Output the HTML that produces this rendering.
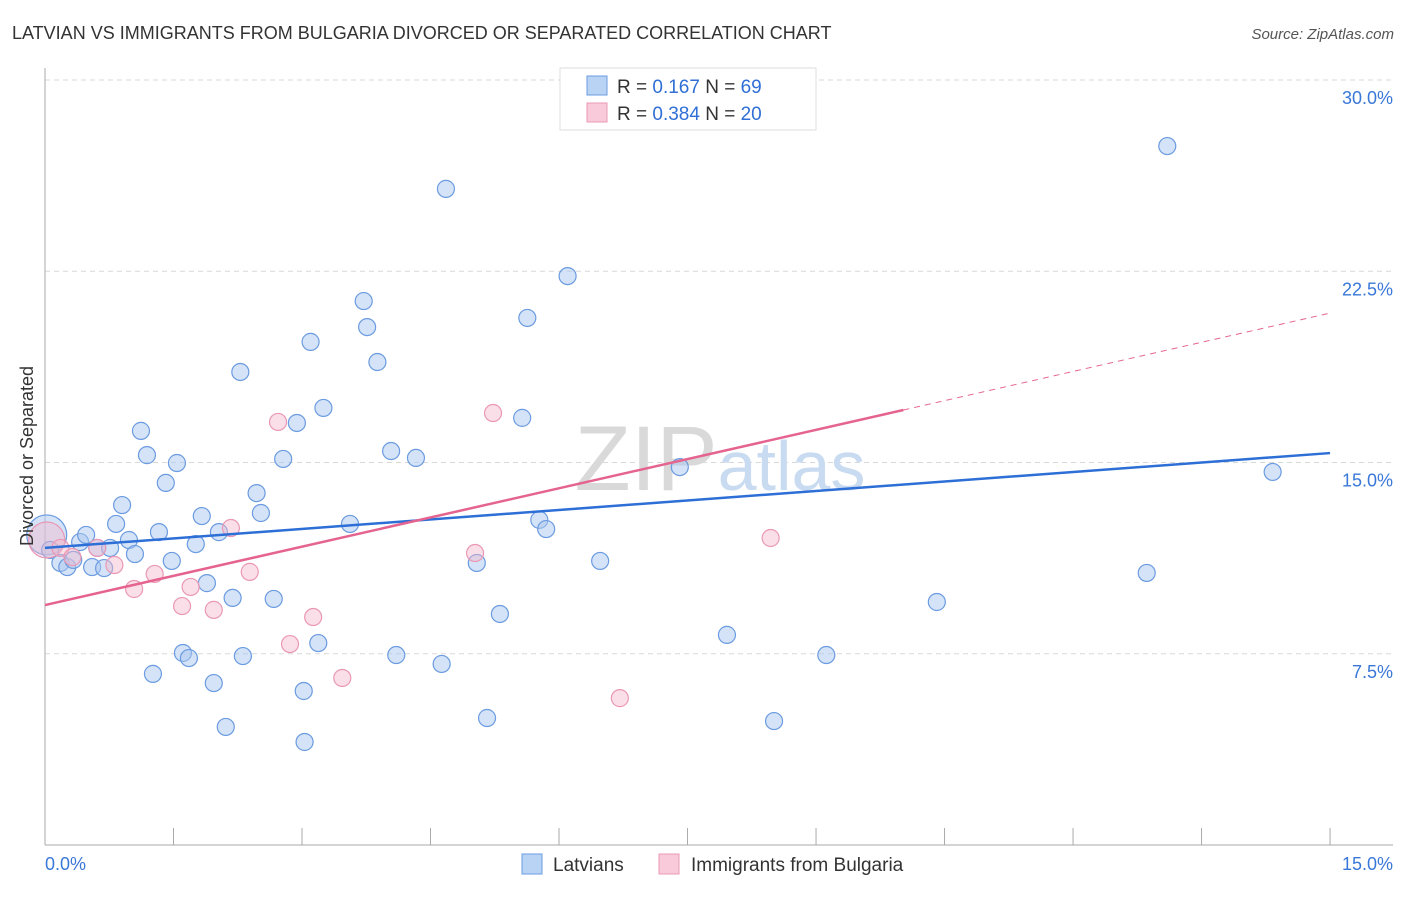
<!DOCTYPE html>
<html><head><meta charset="utf-8"><style>
body{margin:0;background:#fff;font-family:"Liberation Sans",sans-serif}
svg text{font-family:"Liberation Sans",sans-serif}
</style></head><body>
<svg width="1406" height="892" xmlns="http://www.w3.org/2000/svg">
<text x="12" y="39" font-size="18" fill="#333">LATVIAN VS IMMIGRANTS FROM BULGARIA DIVORCED OR SEPARATED CORRELATION CHART</text>
<text x="1394" y="39" font-size="15" fill="#555" font-style="italic" text-anchor="end">Source: ZipAtlas.com</text>
<g id="grid"></g>
<text x="720" y="490" font-size="92" fill="#dde3ea" text-anchor="middle" font-family="Liberation Serif"><tspan fill="#d9d9d9">ZIP</tspan><tspan fill="#c9dbf0" font-family="Liberation Sans" font-size="70">atlas</tspan></text>
<g id="axes"></g>
<g id="pts"></g>
<g id="lines"></g>
<text x="33" y="456" font-size="18" fill="#333" text-anchor="middle" transform="rotate(-90 33 456)">Divorced or Separated</text>
<g>
<rect x="560" y="68" width="256" height="62" fill="#fff" stroke="#ddd"/>
<rect x="587" y="76" width="20" height="19" fill="#b9d3f5" stroke="#6b9be0"/>
<rect x="587" y="103" width="20" height="19" fill="#f9cad9" stroke="#ea98b4"/>
<text x="617" y="93" font-size="19" fill="#333">R = <tspan fill="#2f6fd6"> 0.167</tspan>   N = <tspan fill="#2f6fd6">69</tspan></text>
<text x="617" y="120" font-size="19" fill="#333">R = <tspan fill="#2f6fd6">0.384</tspan>   N = <tspan fill="#2f6fd6">20</tspan></text>
</g>
<g>
<rect x="522" y="854" width="20" height="20" fill="#b9d3f5" stroke="#6b9be0"/>
<text x="553" y="871" font-size="19" fill="#333">Latvians</text>
<rect x="659" y="854" width="20" height="20" fill="#f9cad9" stroke="#ea98b4"/>
<text x="691" y="871" font-size="19" fill="#333">Immigrants from Bulgaria</text>
</g>
</svg>
<script>
const blueX=[0.02,0.06,0.18,0.26,0.33,0.41,0.48,0.55,0.61,0.69,0.76,0.83,0.90,0.98,1.05,1.12,1.19,1.26,1.33,1.41,1.48,1.54,1.61,1.68,1.76,1.83,1.89,1.97,2.03,2.11,2.19,2.28,2.31,2.47,2.52,2.67,2.78,2.94,3.02,3.03,3.10,3.19,3.25,3.56,3.72,3.76,3.88,4.04,4.10,4.33,4.63,4.68,5.04,5.16,5.31,5.57,5.63,5.77,5.85,6.10,6.48,7.41,7.96,8.51,9.12,10.41,12.86,13.10,14.33];
const blueY=[12.16,11.57,11.06,10.90,11.18,11.88,12.16,10.90,11.65,10.86,11.65,12.59,13.33,11.96,11.41,16.24,15.29,6.71,12.27,14.20,11.14,14.98,7.53,7.33,11.80,12.90,10.27,6.35,12.27,4.63,9.69,18.55,7.41,13.80,13.02,9.65,15.14,16.55,6.04,4.04,19.73,7.92,17.14,12.59,21.33,20.31,18.94,15.45,7.45,15.18,7.10,25.73,11.06,4.98,9.06,16.75,20.67,12.75,12.39,22.31,11.14,14.82,8.24,4.86,7.45,9.53,10.67,27.41,14.63];
const pinkX=[0.02,0.18,0.32,0.61,0.81,1.04,1.28,1.60,1.70,1.97,2.17,2.39,2.72,2.86,3.13,3.47,5.02,5.23,6.71,7.96,8.47];
const pinkY=[11.96,11.65,11.29,11.65,10.98,10.04,10.63,9.37,10.12,9.22,12.43,10.71,16.59,7.88,8.94,6.55,11.45,16.94,5.76,29.25,12.04];
const yTicks=[7.5,15,22.5,30];
const yTickLabels=["7.5%","15.0%","22.5%","30.0%"];
const blueFit=[11.65,15.37];
const pinkFit=[9.41,20.86];
const pinkSolidEnd=10.02;
const NS="http://www.w3.org/2000/svg";
const X=v=>45+v*85.67, Y=v=>845-v*25.5;
function mk(t,a,p){const e=document.createElementNS(NS,t);for(const k in a)e.setAttribute(k,a[k]);p.appendChild(e);return e;}
const grid=document.getElementById('grid'),axes=document.getElementById('axes'),pts=document.getElementById('pts'),lines=document.getElementById('lines');
yTicks.forEach((v,i)=>{
 const l=mk('line',{x1:45,x2:1393,y1:Y(v),y2:Y(v),stroke:'#d8d8d8','stroke-dasharray':'5,4'},grid);
 
 
 const t=mk('text',{x:1393,y:Y(v)+24,'font-size':18,fill:'#3a78d8','text-anchor':'end'},grid);t.textContent=yTickLabels[i];
 
 
});
mk('line',{x1:45,x2:45,y1:68,y2:845,stroke:'#aaa'},axes);
mk('line',{x1:45,x2:1393,y1:845,y2:845,stroke:'#aaa'},axes);
for(let i=0;i<=10;i++){const x=X(i*1.5);const l=mk('line',{x1:x,x2:x,y1:828,y2:845,stroke:'#aaa'},axes);
 
 }
let t=mk('text',{x:45,y:870,'font-size':18,fill:'#3a78d8'},axes);t.textContent='0.0%';


t=mk('text',{x:1393,y:870,'font-size':18,fill:'#3a78d8','text-anchor':'end'},axes);t.textContent='15.0%';


blueX.forEach((x,i)=>{const c=mk('circle',{cx:X(x),cy:Y(blueY[i]),r:i==0?20:8.5,fill:'rgba(170,200,240,0.5)',stroke:'#6b9be0','stroke-width':1.2},pts);
 
 });
pinkX.forEach((x,i)=>{const c=mk('circle',{cx:X(x),cy:Y(pinkY[i]),r:i==0?18:8.5,fill:'rgba(245,185,205,0.45)',stroke:'#ea98b4','stroke-width':1.2},pts);
 
 });
let l=mk('line',{x1:X(0),y1:Y(blueFit[0]),x2:X(15),y2:Y(blueFit[1]),stroke:'#2d6fd6','stroke-width':2.5},lines);


const pf=x=>pinkFit[0]+(pinkFit[1]-pinkFit[0])*x/15;
l=mk('line',{x1:X(0),y1:Y(pf(0)),x2:X(pinkSolidEnd),y2:Y(pf(pinkSolidEnd)),stroke:'#e5648f','stroke-width':2.5},lines);


l=mk('line',{x1:X(pinkSolidEnd),y1:Y(pf(pinkSolidEnd)),x2:X(15),y2:Y(pf(15)),stroke:'#e5648f','stroke-width':1,'stroke-dasharray':'6,5'},lines);


</script>
</body></html>
